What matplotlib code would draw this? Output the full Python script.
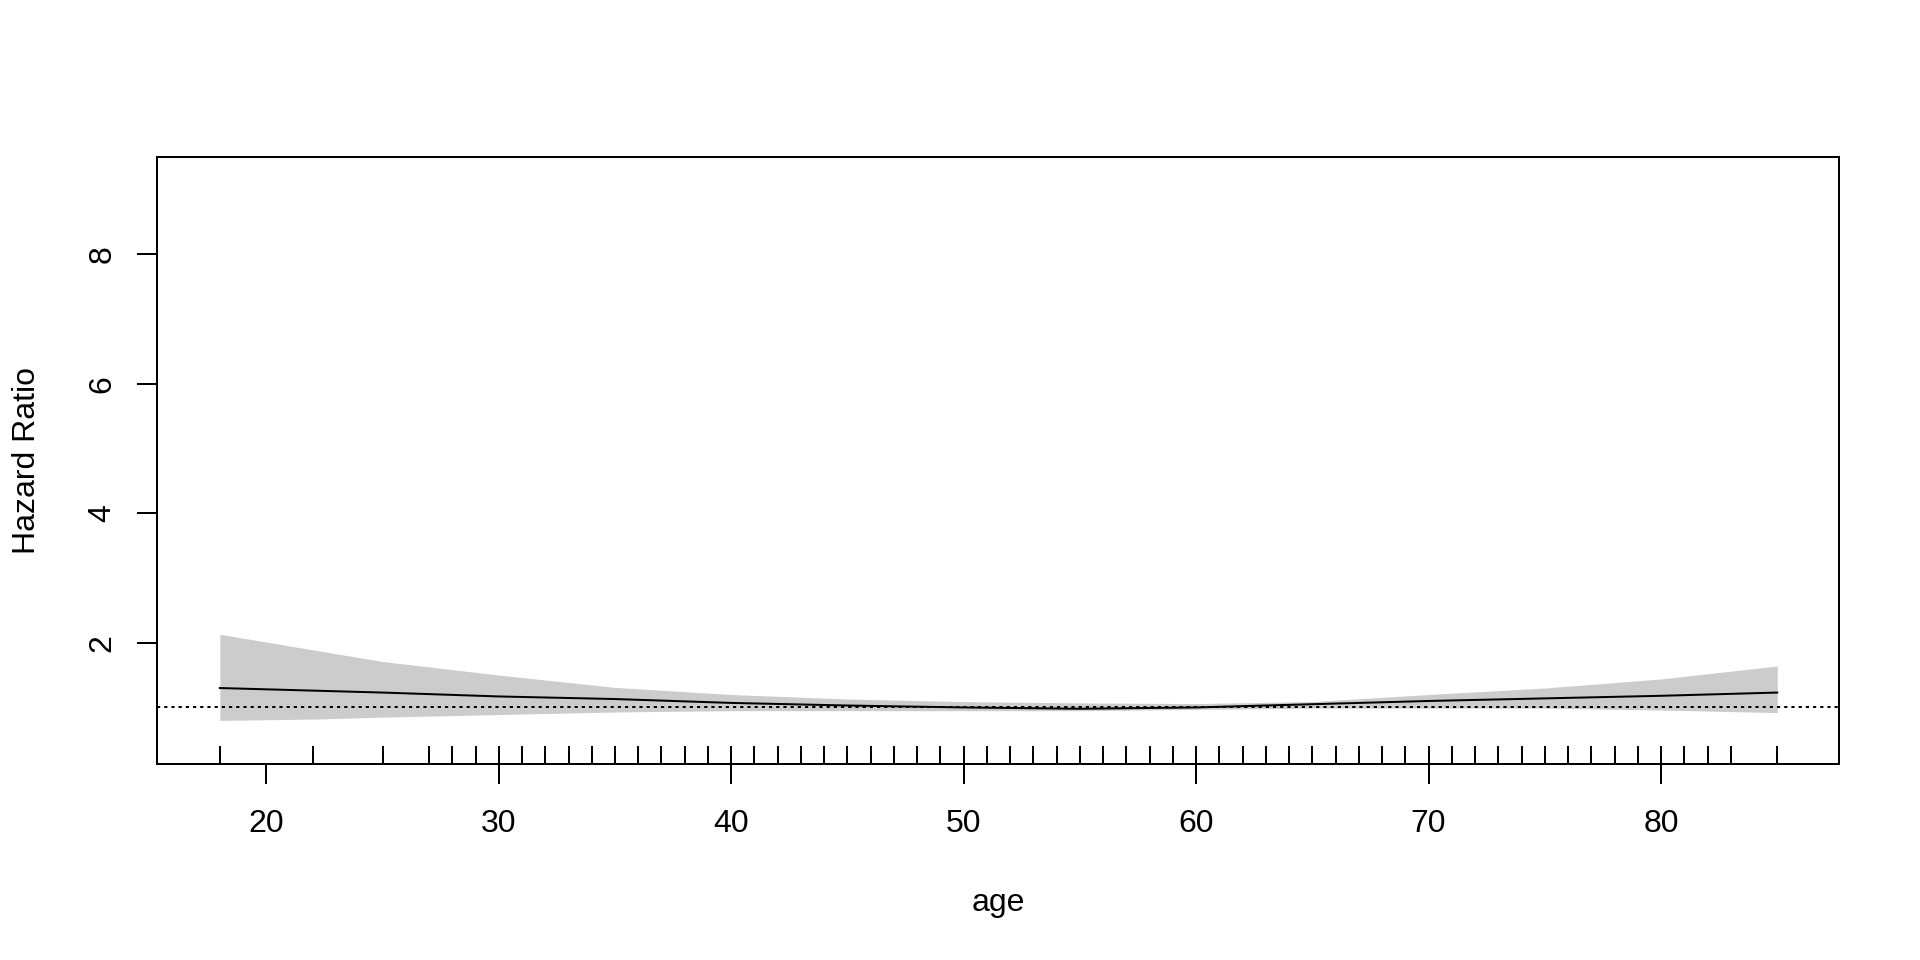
import matplotlib
matplotlib.use("Agg")
import matplotlib.pyplot as plt
import matplotlib.transforms as mtransforms

# valores (edad vs hazard ratio)
edades = [18, 22, 25, 30, 35, 40, 45, 50, 55, 60, 65, 70, 75, 80, 85]
hr = [1.30, 1.26, 1.23, 1.17, 1.13, 1.07, 1.03, 1.00, 0.98, 1.00, 1.05, 1.10, 1.14, 1.18, 1.23]
hr_sup = [2.13, 1.89, 1.71, 1.50, 1.31, 1.20, 1.13, 1.09, 1.07, 1.06, 1.09, 1.20, 1.30, 1.44, 1.64]
hr_inf = [0.80, 0.82, 0.85, 0.89, 0.93, 0.95, 0.95, 0.95, 0.95, 0.97, 0.99, 0.99, 0.99, 0.96, 0.92]

# edades observadas (rug)
edades_rug = [18, 22, 25] + list(range(27, 84)) + [85]

xticks = [20, 30, 40, 50, 60, 70, 80]
yticks = [2, 4, 6, 8]

plt.rcParams["font.family"] = ["Liberation Sans", "DejaVu Sans"]

fig = plt.figure(figsize=(19.2, 9.6), dpi=100)
ax = fig.add_axes([157.3 / 1920, 1 - 763.7 / 960, (1839.3 - 157.3) / 1920, (763.7 - 157.3) / 960])

ax.fill_between(edades, hr_inf, hr_sup, color="#CCCCCC", linewidth=0, zorder=1)
ax.plot(edades, hr, color="black", linewidth=1.44, zorder=3)
ax.axhline(1, color="black", linewidth=1.44, linestyle=(0, (1.6, 2.0)), zorder=2)

trans = mtransforms.blended_transform_factory(ax.transData, ax.transAxes)
ax.vlines(edades_rug, 0, 0.03, transform=trans, color="black", linewidth=1.44, zorder=2)

ax.set_xlim(15.31, 87.67)
ax.set_ylim(0.131, 9.499)
ax.set_xticks(xticks)
ax.set_yticks(yticks)
ax.set_yticklabels([str(v) for v in yticks], rotation=90, va="center")

for s in ax.spines.values():
    s.set_linewidth(1.44)
ax.tick_params(axis="both", direction="out", length=14.4, width=1.44, labelsize=23)
ax.tick_params(axis="x", pad=18.5)
ax.tick_params(axis="y", pad=14.5)

fig.text(998 / 1920, 1 - 902.5 / 960, "age", ha="center", va="center", fontsize=23)
fig.text(27.5 / 1920, 1 - 460 / 960, "Hazard Ratio", ha="center", va="center", rotation=90, fontsize=23)

fig.savefig("out.png", dpi=100)
plt.close(fig)
